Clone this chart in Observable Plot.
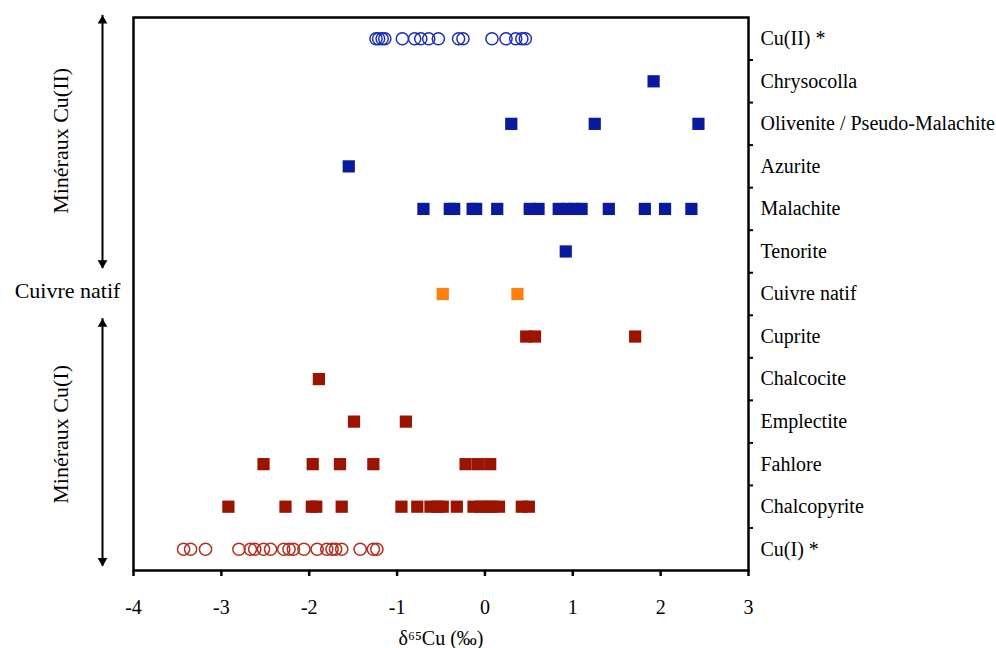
<!DOCTYPE html>
<html>
<head>
<meta charset="utf-8">
<script src="https://cdn.jsdelivr.net/npm/d3@7"></script>
<script src="https://cdn.jsdelivr.net/npm/@observablehq/plot@0.6"></script>
<style>
  html, body { margin: 0; padding: 0; background: #fff; }
  #chart { width: 996px; height: 648px; }
</style>
</head>
<body>
<div id="chart"></div>
<script>
// ---- Data ----
const categories = ["Cu(II) *", "Chrysocolla", "Olivenite / Pseudo-Malachite", "Azurite", "Malachite", "Tenorite",
  "Cuivre natif", "Cuprite", "Chalcocite", "Emplectite", "Fahlore", "Chalcopyrite", "Cu(I) *"];
const cuIIStar = [-1.24, -1.21, -1.17, -1.14, -0.94, -0.80, -0.73, -0.64, -0.53, -0.30, -0.25, 0.08, 0.24, 0.35, 0.42, 0.46];
const chrysocolla = [1.92];
const olivenite = [0.30, 1.25, 2.43];
const azurite = [-1.55];
const malachite = [-0.70, -0.40, -0.35, -0.14, -0.10, 0.14, 0.51, 0.61, 0.84, 0.94, 1.02, 1.10, 1.41, 1.82, 2.05, 2.35];
const tenorite = [0.92];
const cuivreNatif = [-0.48, 0.37];
const cuprite = [0.47, 0.57, 1.71];
const chalcocite = [-1.89];
const emplectite = [-1.49, -0.90];
const fahlore = [-2.52, -1.96, -1.65, -1.27, -0.22, -0.08, 0.06];
const chalcopyrite = [-2.92, -2.27, -1.97, -1.92, -1.63, -0.95, -0.77, -0.62, -0.54, -0.48, -0.32, -0.13, -0.05, 0.02, 0.08, 0.16, 0.42, 0.50];
const cuIStar = [-3.43, -3.35, -3.18, -2.80, -2.67, -2.62, -2.52, -2.44, -2.29, -2.23, -2.18, -2.06, -1.91, -1.80, -1.74, -1.70, -1.63, -1.42, -1.27, -1.23];
const seriesValues = [cuIIStar, chrysocolla, olivenite, azurite, malachite, tenorite, cuivreNatif, cuprite, chalcocite, emplectite, fahlore, chalcopyrite, cuIStar];
const seriesGroup = ["Cu(II) open", "Cu(II)", "Cu(II)", "Cu(II)", "Cu(II)", "Cu(II)", "natif", "Cu(I)", "Cu(I)", "Cu(I)", "Cu(I)", "Cu(I)", "Cu(I) open"];
const xTicks = [-4, -3, -2, -1, 0, 1, 2, 3];
const xLabel = "δ⁶⁵Cu (‰)";
const groupLabels = ["Minéraux Cu(II)", "Minéraux Cu(I)"];
const groupTop = [-0.55, 6.58];
const groupBottom = [5.4, 12.4];
const groupMid = [2.4, 9.3];
const middleLabel = "Cuivre natif";

// ---- Build table ----
const rows = seriesValues.flatMap((vals, i) => vals.map(v => ({
  name: categories[i], row: i, value: v, group: seriesGroup[i], open: seriesGroup[i].endsWith("open")
})));
const groups = groupLabels.map((label, i) => ({label, top: groupTop[i], bottom: groupBottom[i], mid: groupMid[i]}));
const rowIdx = categories.map((_, i) => i);
const boundaries = categories.slice(1).map((_, i) => i + 0.5);

const font = "'Liberation Serif', 'Times New Roman', Times, serif";

const chart = Plot.plot({
  width: 996,
  height: 648,
  marginTop: 17,
  marginBottom: 78,
  marginLeft: 133,
  marginRight: 248,
  style: {fontFamily: font, fontSize: "20px", color: "#000", background: "#fff", overflow: "visible"},
  x: {domain: [xTicks[0], xTicks[xTicks.length - 1]]},
  y: {domain: [-0.5, categories.length - 0.5], reverse: true},
  color: {
    domain: ["Cu(II) open", "Cu(II)", "natif", "Cu(I)", "Cu(I) open"],
    range: ["#1b2fb5", "#0a1a9e", "#ff7f0e", "#9b1400", "#b2301f"]
  },
  marks: [
    Plot.frame({stroke: "#000", strokeWidth: 2.5}),
    Plot.axisX({ticks: xTicks, tickSize: 6, tickPadding: 23, strokeWidth: 2.5, fontSize: 20,
      tickFormat: d => (d < 0 ? "-" + Math.abs(d) : String(d)),
      label: xLabel, labelAnchor: "center", labelArrow: "none", labelOffset: 74}),
    Plot.axisY({anchor: "right", ticks: rowIdx, tickSize: 0, tickPadding: 12, tickFormat: i => categories[i], label: null, fontSize: 20}),
    Plot.axisY({anchor: "right", ticks: boundaries, tickSize: 4, strokeWidth: 2, tickFormat: () => "", label: null}),
    Plot.dot(rows.filter(d => d.open), {x: "value", y: "row", r: 6.1, stroke: "group", strokeWidth: 1.5, fill: "none"}),
    Plot.dot(rows.filter(d => !d.open), {x: "value", y: "row", symbol: "square", r: 6.9, fill: "group", stroke: "none"}),
    // group annotations to the left of the frame
    Plot.ruleX(groups, {x: () => xTicks[0], y1: "top", y2: "bottom", dx: -31, stroke: "#000", strokeWidth: 2}),
    Plot.dot(groups, {frameAnchor: "left", y: "top", dx: -31, dy: 5.4, symbol: "triangle", r: 3.6, fill: "#000", stroke: "none"}),
    Plot.dot(groups, {frameAnchor: "left", y: "bottom", dx: -31, dy: -5.4, symbol: "triangle", rotate: 180, r: 3.6, fill: "#000", stroke: "none"}),
    Plot.text(groups, {frameAnchor: "left", y: "mid", text: "label", dx: -73, rotate: -90, fontSize: 22, textAnchor: "middle", fill: "#000"}),
    Plot.text([middleLabel], {frameAnchor: "left", y: () => categories.indexOf(middleLabel), text: d => d, dx: -66, dy: -3, fontSize: 22, textAnchor: "middle", fill: "#000"})
  ]
});
document.getElementById("chart").appendChild(chart);
</script>
</body>
</html>
